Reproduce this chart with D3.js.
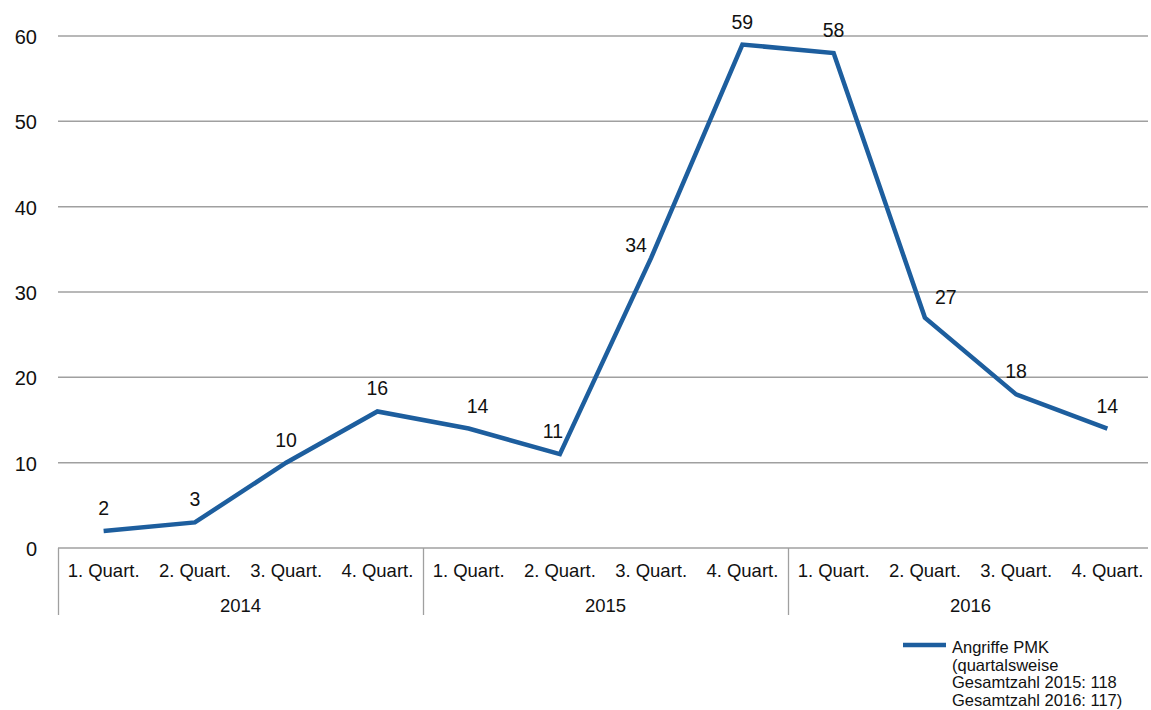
<!DOCTYPE html>
<html>
<head>
<meta charset="utf-8">
<script src="https://cdn.jsdelivr.net/npm/d3@7"></script>
<style>
  body { margin: 0; background: #fff; }
  svg { display: block; font-family: "Liberation Sans", Arial, sans-serif; }
</style>
</head>
<body>
<div id="chart"></div>
<script>
const years = ["2014", "2015", "2016"];
const quarters = ["1. Quart.", "2. Quart.", "3. Quart.", "4. Quart."];
const values = [2, 3, 10, 16, 14, 11, 34, 59, 58, 27, 18, 14];
const yTicks = [0, 10, 20, 30, 40, 50, 60];
const legendLines = ["Angriffe PMK", "(quartalsweise", "Gesamtzahl 2015: 118", "Gesamtzahl 2016: 117)"];

function drawChart(selector) {
  const width = 1151, height = 710;
  const left = 58, right = 1153, top = 36, bottom = 548;
  const lineColor = "#1d5e9e";
  const gridColor = "#a0a0a0";

  const svg = d3.select(selector).append("svg")
    .attr("width", width)
    .attr("height", height);

  const points = [];
  years.forEach(y => quarters.forEach(q => points.push(y + "|" + q)));

  const x = d3.scaleBand().domain(points).range([left, right]);
  const yearX = d3.scaleBand().domain(years).range([left, right]);
  const y = d3.scaleLinear().domain([0, 60]).range([bottom, top]);

  // grid
  svg.append("g")
    .selectAll("line")
    .data(yTicks.filter(d => d > 0))
    .enter().append("line")
    .attr("x1", left).attr("x2", 1148)
    .attr("y1", d => y(d)).attr("y2", d => y(d))
    .attr("stroke", gridColor)
    .attr("stroke-width", 1.5);

  // y labels
  svg.append("g")
    .selectAll("text")
    .data(yTicks)
    .enter().append("text")
    .attr("x", 37)
    .attr("y", d => y(d) + 8)
    .attr("text-anchor", "end")
    .attr("font-size", 20)
    .attr("fill", "#111")
    .text(d => d);

  // x axis baseline
  svg.append("line")
    .attr("x1", left).attr("x2", 1148)
    .attr("y1", bottom).attr("y2", bottom)
    .attr("stroke", gridColor)
    .attr("stroke-width", 1.5);

  // year dividers
  svg.append("g")
    .selectAll("line")
    .data(years)
    .enter().append("line")
    .attr("x1", d => yearX(d) + 0.5).attr("x2", d => yearX(d) + 0.5)
    .attr("y1", bottom).attr("y2", 615)
    .attr("stroke", gridColor)
    .attr("stroke-width", 1.3);

  // quarter labels
  svg.append("g")
    .selectAll("text")
    .data(points)
    .enter().append("text")
    .attr("x", d => x(d) + x.bandwidth() / 2)
    .attr("y", 577)
    .attr("text-anchor", "middle")
    .attr("font-size", 18.5)
    .attr("fill", "#111")
    .text(d => d.split("|")[1]);

  // year labels
  svg.append("g")
    .selectAll("text")
    .data(years)
    .enter().append("text")
    .attr("x", d => yearX(d) + yearX.bandwidth() / 2)
    .attr("y", 612)
    .attr("text-anchor", "middle")
    .attr("font-size", 18.5)
    .attr("fill", "#111")
    .text(d => d);

  const px = (d, i) => x(points[i]) + x.bandwidth() / 2;

  const line = d3.line()
    .x((d, i) => px(d, i))
    .y(d => y(d));

  svg.append("path")
    .datum(values)
    .attr("fill", "none")
    .attr("stroke", lineColor)
    .attr("stroke-width", 4.5)
    .attr("stroke-linejoin", "miter")
    .attr("d", line);

  // label nudges (Excel-style placement)
  const nudge = { 4: [9, 0], 5: [-7, 0], 6: [-15, 10], 9: [21, 2] };

  svg.append("g")
    .selectAll("text")
    .data(values)
    .enter().append("text")
    .attr("x", (d, i) => px(d, i) + (nudge[i] ? nudge[i][0] : 0))
    .attr("y", (d, i) => y(d) - 16 + (nudge[i] ? nudge[i][1] : 0))
    .attr("text-anchor", "middle")
    .attr("font-size", 19.5)
    .attr("fill", "#111")
    .text(d => d);

  // legend
  const lg = svg.append("g");
  lg.append("line")
    .attr("x1", 903).attr("x2", 946)
    .attr("y1", 645).attr("y2", 645)
    .attr("stroke", lineColor)
    .attr("stroke-width", 4.5);
  lg.selectAll("text")
    .data(legendLines)
    .enter().append("text")
    .attr("x", 952)
    .attr("y", (d, i) => 653 + i * 17.5)
    .attr("font-size", 16.5)
    .attr("fill", "#111")
    .text(d => d);
}

window.onload = () => {
  drawChart("#chart");
};
</script>
</body>
</html>
